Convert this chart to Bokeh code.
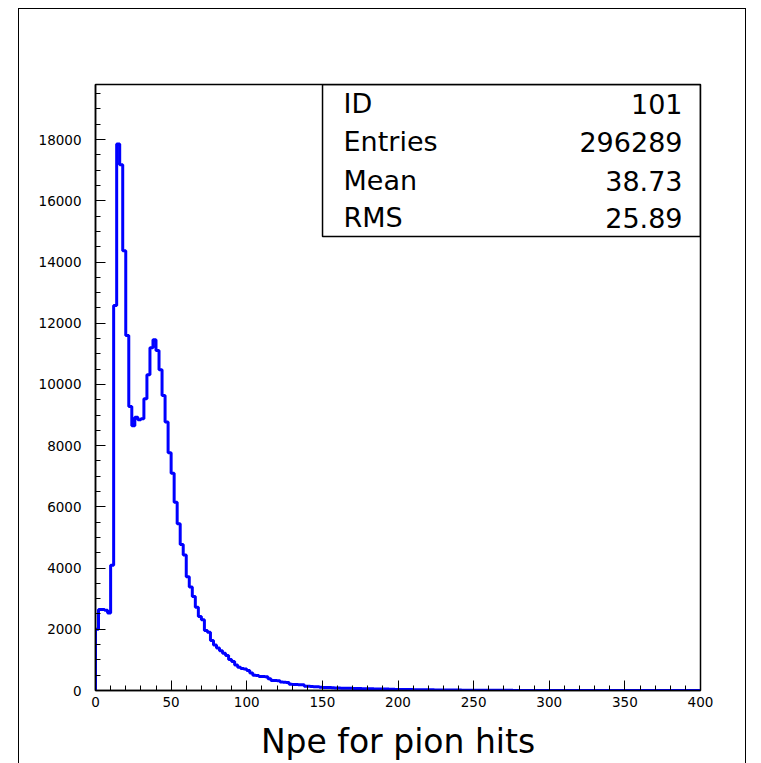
from bokeh.plotting import figure
from bokeh.models import (Label, BoxAnnotation, SingleIntervalTicker,
                          NumeralTickFormatter, Range1d, InlineStyleSheet)
from bokeh.embed import file_html
from bokeh.resources import INLINE

# ---- data (HBOOK histogram 101: Npe for pion hits, 200 bins of width 2 from 0 to 400)
bin_width = 2
x_min = 0
counts = [
    2000, 2650, 2650, 2620, 2530, 4090, 12580, 17860, 17180, 14370,
    11600, 9280, 8650, 8930, 8850, 8880, 9530, 10320, 11200, 11460,
    11110, 10480, 9640, 8770, 7770, 7100, 6150, 5450, 4770, 4430,
    3720, 3380, 3070, 2720, 2420, 2310, 1960, 1900, 1630, 1490,
    1390, 1300, 1220, 1140, 1010, 950, 830, 760, 720, 700,
    650, 570, 500, 490, 460, 455, 450, 380, 330, 330,
    320, 275, 270, 265, 205, 200, 195, 190, 185, 140,
    135, 130, 125, 120, 105, 100, 98, 95, 92, 80,
    78, 75, 73, 72, 70, 68, 66, 62, 60, 58,
    56, 55, 53, 52, 50, 48, 46, 44, 40, 36,
    34, 33, 31, 30, 30, 28, 27, 26, 25, 24,
    22, 21, 20, 19, 18, 17, 16, 15, 14, 14,
    13, 12, 12, 11, 10, 10, 9, 9, 8, 8,
    7, 7, 6, 6, 6, 5, 5, 5, 4, 4,
    4, 4, 3, 3, 3, 3, 3, 2, 2, 2,
    2, 2, 2, 2, 1, 1, 1, 1, 1, 1,
    1, 1, 1, 1, 1, 1, 1, 1, 0, 1,
    0, 1, 0, 0, 1, 0, 0, 0, 1, 0,
    0, 0, 0, 1, 0, 0, 0, 0, 0, 0,
    0, 0, 0, 0, 0, 0, 0, 0, 0, 0,
]
stat_names = ["ID", "Entries", "Mean", "RMS"]
stat_values = ["101", "296289", "38.73", "25.89"]
x_title = "Npe for pion hits"

# ---- staircase built from the bins
edges = [x_min + bin_width * i for i in range(len(counts) + 1)]
step_x = [edges[0]] + edges
step_y = [0] + counts + [counts[-1]]

FONT = "DejaVu Sans"

p = figure(frame_width=605, frame_height=606,
           x_range=Range1d(0, 400), y_range=Range1d(0, 19800),
           output_backend="svg", toolbar_location=None,
           min_border_left=95, min_border_right=61,
           min_border_top=84, min_border_bottom=40)
p.title.visible = False
p.grid.visible = False
p.background_fill_color = "white"
p.border_fill_color = "white"
p.outline_line_color = "black"
p.outline_line_width = 1.5

p.step(step_x, step_y, mode="after", line_color="#0000ff", line_width=3)

# axes
p.xaxis.ticker = SingleIntervalTicker(interval=50, num_minor_ticks=5)
p.yaxis.ticker = SingleIntervalTicker(interval=2000, num_minor_ticks=4)
p.yaxis.formatter = NumeralTickFormatter(format="0")
for ax in (p.xaxis[0], p.yaxis[0]):
    ax.axis_line_color = "black"
    ax.axis_line_width = 1.5
    ax.major_tick_in = 10
    ax.major_tick_out = 0
    ax.minor_tick_in = 5
    ax.minor_tick_out = 0
    ax.major_tick_line_color = "black"
    ax.minor_tick_line_color = "black"
    ax.major_label_text_font = FONT
    ax.major_label_text_font_size = "13.5px"
    ax.major_label_text_color = "black"
p.xaxis.major_label_standoff = 6
p.yaxis.major_label_standoff = 14

# x-axis title
p.xaxis.axis_label = x_title
p.xaxis.axis_label_text_font = FONT
p.xaxis.axis_label_text_font_size = "33px"
p.xaxis.axis_label_text_font_style = "normal"
p.xaxis.axis_label_text_color = "black"
p.xaxis.axis_label_standoff = 12

# statistics box
p.add_layout(BoxAnnotation(left=150.1, right=400, bottom=14831, top=19800,
                           fill_alpha=0, line_color="black", line_alpha=1.0,
                           line_width=1.5))
row_y = [19176, 17935, 16661, 15452]
for name, val, yy in zip(stat_names, stat_values, row_y):
    p.add_layout(Label(x=164, y=yy, text=name, text_align="left",
                       text_baseline="middle", text_font=FONT,
                       text_font_size="27px", text_color="black"))
    p.add_layout(Label(x=388.1, y=yy, text=val, text_align="right",
                       text_baseline="middle", text_font=FONT,
                       text_font_size="27px", text_color="black"))

# outer page frame (drawn as a CSS decoration of the figure element)
p.stylesheets = [InlineStyleSheet(css=(
    ":host { position: relative; }"
    ":host::after { content: ''; position: absolute; left: 18px; top: 8px;"
    " width: 728px; height: 900px; border-left: 1.5px solid black;"
    " border-top: 1.5px solid black; border-right: 1.5px solid black;"
    " pointer-events: none; box-sizing: border-box; }"
))]

open("out.html", "w").write(file_html(p, INLINE))
